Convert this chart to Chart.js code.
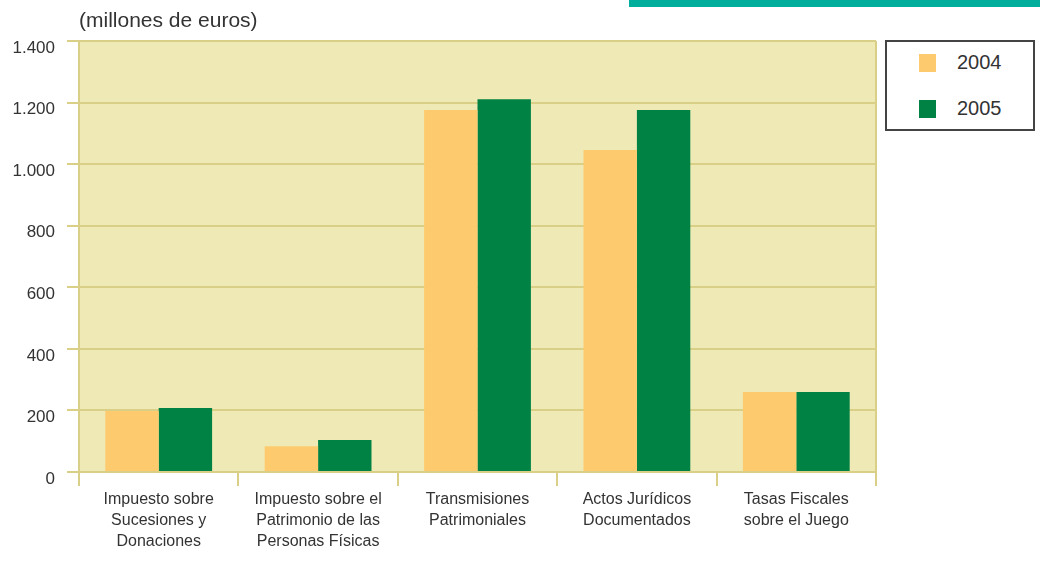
<!DOCTYPE html>
<html>
<head>
<meta charset="utf-8">
<script src="https://cdn.jsdelivr.net/npm/chart.js@4"></script>
<style>
    body { margin: 0; background: #fff; }
    #wrap { position: relative; width: 1040px; height: 561px; overflow: hidden; font-family: "Liberation Sans", Arial, sans-serif; color: #333; }
    #topBar { position: absolute; left: 629px; top: 0; width: 411px; height: 7px; background: #00ae9b; }
    #unit { position: absolute; left: 79px; top: 7px; font-size: 21px; line-height: 26px; }
    #legend { position: absolute; left: 885px; top: 40px; width: 150px; height: 91px; box-sizing: border-box; border: 2px solid #444; background: #fff; }
    .item { position: absolute; left: 0; font-size: 20px; line-height: 24px; }
    .item span { position: absolute; left: 32px; width: 17px; height: 18px; }
    .item b { position: absolute; left: 70px; font-weight: normal; }
</style>
</head>
<body>
<div id="wrap">
    <canvas id="barChart" width="1040" height="561"></canvas>
    <div id="topBar"></div>
    <div id="unit">(millones de euros)</div>
    <div id="legend"></div>
</div>
<script>
const categories = [
    ['Impuesto sobre', 'Sucesiones y', 'Donaciones'],
    ['Impuesto sobre el', 'Patrimonio de las', 'Personas Físicas'],
    ['Transmisiones', 'Patrimoniales'],
    ['Actos Jurídicos', 'Documentados'],
    ['Tasas Fiscales', 'sobre el Juego']
];
const seriesNames = ['2004', '2005'];
const values2004 = [198, 84, 1176, 1046, 260];
const values2005 = [208, 104, 1211, 1176, 260];
const yTicks = [0, 200, 400, 600, 800, 1000, 1200, 1400];

const colors = ['#fdcb6e', '#008244'];
const gridColor = '#d9cf86';

// legend box (html)
const legendEl = document.getElementById('legend');
seriesNames.forEach((name, i) => {
    const item = document.createElement('div');
    item.className = 'item';
    item.style.top = (8 + i * 46) + 'px';
    item.innerHTML = '<span style="background:' + colors[i] + ';top:4px"></span><b>' + name + '</b>';
    item.style.width = '146px';
    item.style.height = '24px';
    legendEl.appendChild(item);
});

const plotBackground = {
    id: 'plotBackground',
    beforeDraw(chart) {
        const { ctx, chartArea } = chart;
        ctx.save();
        ctx.fillStyle = '#efe9b5';
        ctx.fillRect(chartArea.left, chartArea.top, chartArea.right - chartArea.left, chartArea.bottom - chartArea.top);
        ctx.restore();
    },
    beforeDatasetsDraw(chart) {
        const { ctx, chartArea } = chart;
        ctx.save();
        ctx.strokeStyle = gridColor;
        ctx.lineWidth = 2;
        ctx.beginPath();
        ctx.moveTo(chartArea.right, chartArea.top);
        ctx.lineTo(chartArea.right, chartArea.bottom);
        ctx.stroke();
        ctx.restore();
    }
};

const ctx = document.getElementById('barChart');
new Chart(ctx, {
    type: 'bar',
    data: {
        labels: categories,
        datasets: [
            { label: seriesNames[0], data: values2004, backgroundColor: colors[0] },
            { label: seriesNames[1], data: values2005, backgroundColor: colors[1] }
        ]
    },
    options: {
        responsive: false,
        animation: false,
        categoryPercentage: 0.67,
        barPercentage: 1,
        layout: { padding: { top: 41, right: 164, bottom: 0, left: 0 } },
        plugins: {
            legend: { display: false },
            tooltip: { enabled: false }
        },
        scales: {
            x: {
                grid: { offset: true, drawOnChartArea: false, color: gridColor, lineWidth: 2, tickLength: 14 },
                border: { color: gridColor, width: 2 },
                ticks: {
                    color: '#333',
                    maxRotation: 0,
                    autoSkip: false,
                    padding: 3,
                    font: { family: '"Liberation Sans", Arial, sans-serif', size: 16, lineHeight: 1.31 }
                },
                afterFit(scale) { scale.height = 89; }
            },
            y: {
                min: 0,
                max: 1400,
                afterBuildTicks(scale) { scale.ticks = yTicks.map(v => ({ value: v })); },
                grid: { color: gridColor, lineWidth: 2, tickLength: 12 },
                border: { color: gridColor, width: 2 },
                ticks: {
                    color: '#333',
                    padding: 12,
                    labelOffset: 7,
                    font: { family: '"Liberation Sans", Arial, sans-serif', size: 17 },
                    callback: v => v.toString().replace(/\B(?=(\d{3})+(?!\d))/g, '.')
                },
                afterFit(scale) { scale.width = 79; }
            }
        }
    },
    plugins: [plotBackground]
});
</script>
</body>
</html>
